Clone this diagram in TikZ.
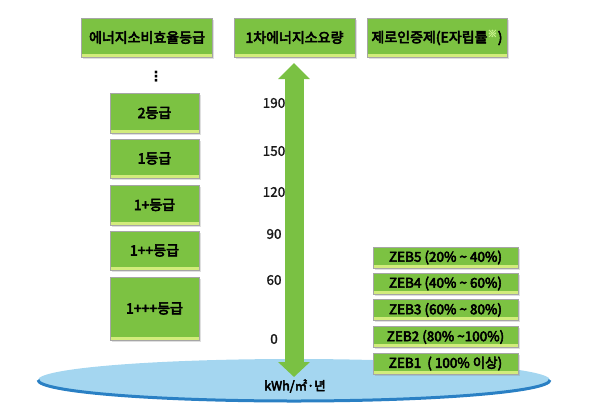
\documentclass[tikz,border=0pt]{standalone}
\usepackage{fontspec}
\newfontfamily\kfont{Noto Sans CJK KR}[FakeBold = 1.5]
\newfontfamily\kboldfont{Noto Sans CJK KR}[FakeBold = 4]
\newfontfamily\symfont{DejaVu Sans}
\usetikzlibrary{arrows.meta, shadows}
\definecolor{boxgreen}{HTML}{7CC242}
\definecolor{bevelgreen}{HTML}{D2EC7C}
\definecolor{arrowgreen}{HTML}{7AC143}
\definecolor{lakeblue}{HTML}{A4D6F0}
\definecolor{rimblue}{HTML}{2A80C4}
\definecolor{notegreen}{HTML}{C6F08A}
\tikzset{
    gradebox/.style = {draw = gray!70, line width = 1pt, fill = boxgreen, text = black,
        font = \kboldfont\fontsize{14}{16}\selectfont, inner sep = 0pt,
        drop shadow = {opacity = 0.25, shadow xshift = 1.5pt, shadow yshift = -1.5pt},
        path picture = {\fill [bevelgreen] (path picture bounding box.south west) rectangle ([yshift = 3.5pt]path picture bounding box.south east);}},
    zebbox/.style = {gradebox, minimum width = 145pt, minimum height = 21pt,
        font = \kboldfont\fontsize{13.5}{15}\selectfont},
    tick/.style = {font = \kfont\fontsize{13.5}{15}\selectfont, text = black!90}
}
\begin{document}
\begin{tikzpicture}[x = 1pt, y = -1pt]
    \useasboundingbox (0,0) rectangle (600,416);
    \fill [lakeblue] (294,380) ellipse [x radius = 256, y radius = 21];
    \draw [rimblue, line width = 3pt] (38,380) arc [start angle = 180, end angle = 0, x radius = 256, y radius = 21];
    \node [gradebox, minimum width = 131pt, minimum height = 39pt] (label) at (147,37.5) {에너지소비효율등급};
    \node [gradebox, minimum width = 121pt, minimum height = 39pt] (rate) at (294.5,37.5) {1차에너지소요량};
    \node [gradebox, minimum width = 140pt, minimum height = 39pt] (zero) at (437,37.5) {제로인증제(E자립률\textsuperscript{\textcolor{notegreen}{※}})};
    \node [font = \symfont\bfseries\fontsize{14}{16}\selectfont] (dots) at (156,77) {⋮};
    \node [gradebox, minimum width = 89pt, minimum height = 40pt] (g2) at (154.5,113) {2등급};
    \node [gradebox, minimum width = 89pt, minimum height = 39pt] (g1) at (154.5,158.5) {1등급};
    \node [gradebox, minimum width = 89pt, minimum height = 40pt] (g1p) at (154.5,205) {1+등급};
    \node [gradebox, minimum width = 89pt, minimum height = 39pt] (g1pp) at (154.5,250.5) {1++등급};
    \node [gradebox, minimum width = 89pt, minimum height = 63pt] (g1ppp) at (154.5,308.5) {1+++등급};
    \node [tick] (t190) at (274,103) {190};
    \node [tick] (t150) at (274,151) {150};
    \node [tick] (t120) at (274,192) {120};
    \node [tick] (t90) at (274,234) {90};
    \node [tick] (t60) at (274,280) {60};
    \node [tick] (t0) at (274,339) {0};
    \coordinate (top) at (294,63);
    \coordinate (bot) at (294,377);
    \draw [arrowgreen, line width = 19pt, {Triangle[width = 31pt, length = 16pt]}-{Triangle[width = 31pt, length = 15pt]}] (top) -- (bot);
    \node [font = \kboldfont\fontsize{12.5}{14}\selectfont] (unit) at (295,386) {kWh/㎡·년};
    \node [zebbox] (zeb5) at (445.5,257.5) {ZEB5 (20\% \textasciitilde{} 40\%)};
    \node [zebbox] (zeb4) at (445.5,283.5) {ZEB4 (40\% \textasciitilde{} 60\%)};
    \node [zebbox] (zeb3) at (445.5,310) {ZEB3 (60\% \textasciitilde{} 80\%)};
    \node [zebbox] (zeb2) at (445.5,337) {ZEB2 (80\% \textasciitilde100\%)};
    \node [zebbox] (zeb1) at (445.5,363.5) {ZEB1\ \ ( 100\% 이상)};
\end{tikzpicture}
\end{document}
